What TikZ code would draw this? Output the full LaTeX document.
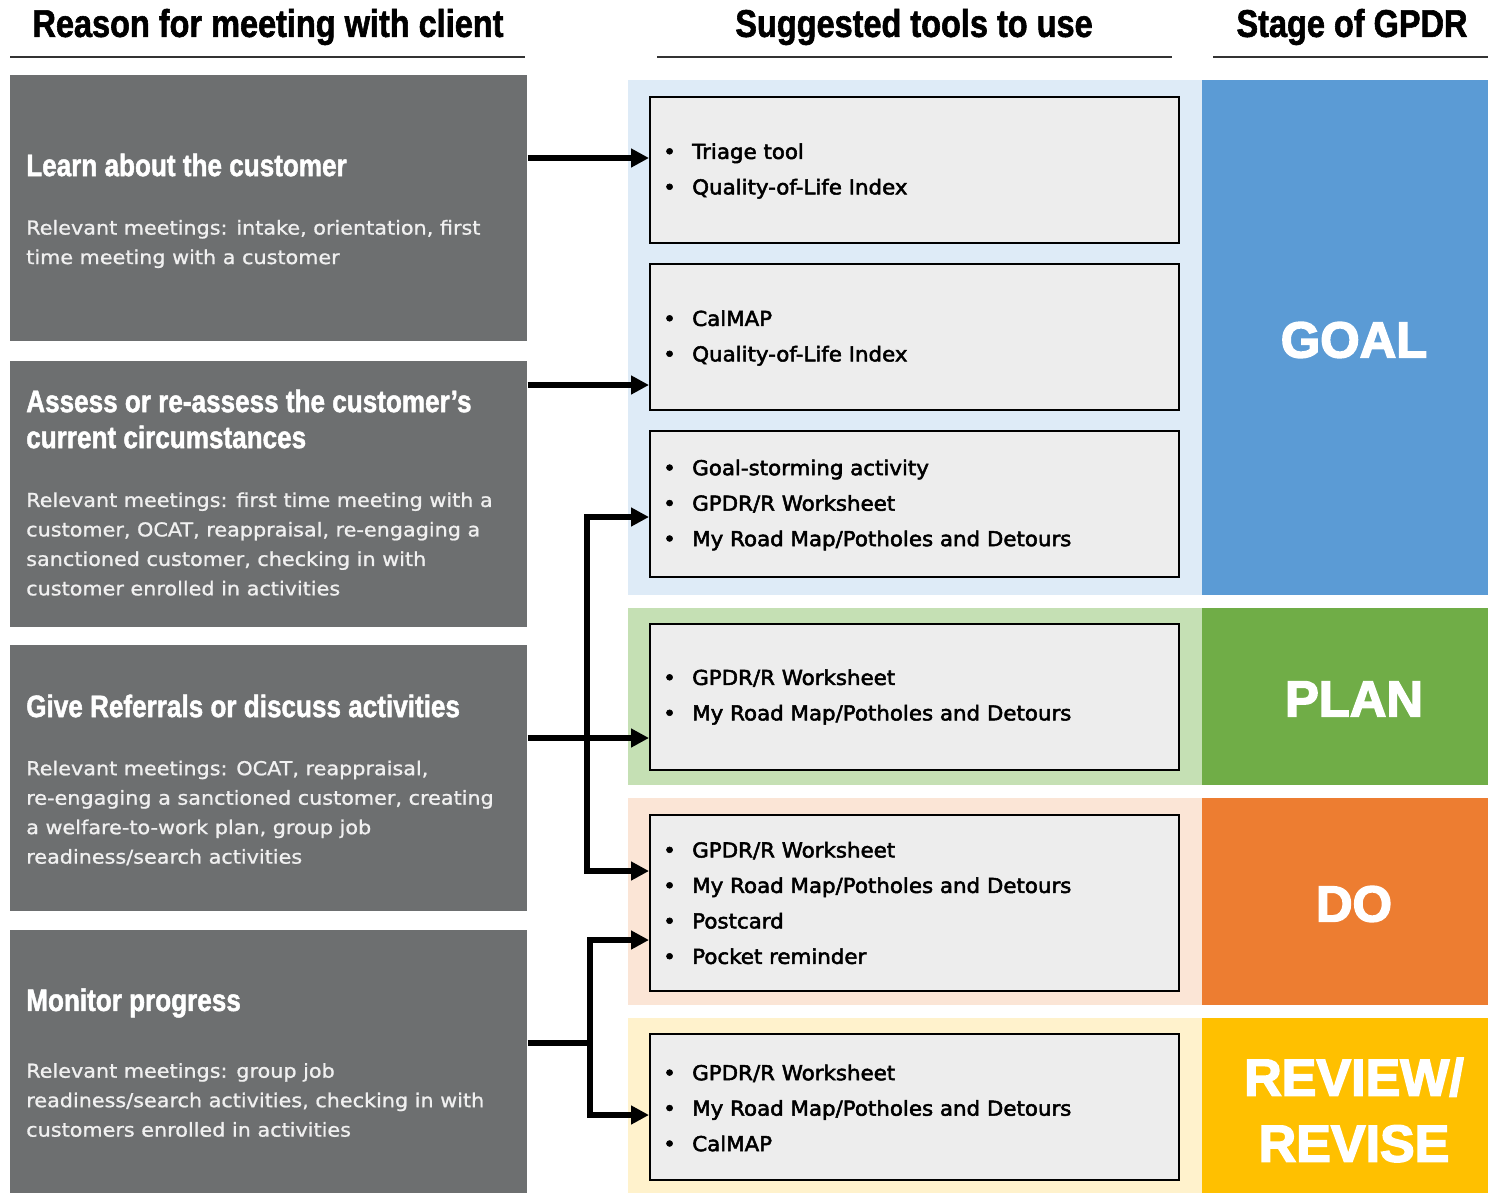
\documentclass[tikz,border=0pt]{standalone}
\usepackage{fontspec}
\setmainfont{DejaVu Sans}
\newfontfamily\headfont[FakeStretch=0.84,FakeBold=1.5,UprightFont={* Bold}]{Liberation Sans}
\newfontfamily\stagefont[FakeBold=3,UprightFont={* Bold}]{Liberation Sans}
\newfontfamily\bodyfont[FakeStretch=1.08,FakeBold=1]{DejaVu Sans}
\newfontfamily\toolfont[FakeStretch=1.04,FakeBold=2.5]{DejaVu Sans}
\usetikzlibrary{arrows.meta}

\definecolor{reasongray}{HTML}{6D6F70}
\definecolor{toolgray}{HTML}{EDEDED}
\definecolor{goalbg}{HTML}{DEEBF7}
\definecolor{goalc}{HTML}{5B9BD5}
\definecolor{planbg}{HTML}{C5E0B4}
\definecolor{planc}{HTML}{70AD47}
\definecolor{dobg}{HTML}{FBE5D6}
\definecolor{doc}{HTML}{ED7D31}
\definecolor{revbg}{HTML}{FFF2CC}
\definecolor{revc}{HTML}{FFC000}

\newcommand\bul{\makebox[21.75pt][l]{\textbullet}}

\tikzset{
  colhead/.style={font=\headfont\fontsize{29}{32}\selectfont, inner sep=0},
  reason/.style={fill=reasongray, anchor=north west, inner sep=0,
    minimum width=387.75pt, minimum height=199.5pt},
  rtitle/.style={anchor=west, inner sep=0, align=left, text=white,
    font=\headfont\fontsize{23.3}{27}\selectfont},
  rbody/.style={anchor=west, inner sep=0, align=left, text=black!6,
    font=\bodyfont\fontsize{14.4}{22.1}\selectfont},
  tool/.style={fill=toolgray, draw=black, line width=1.3pt, anchor=north west,
    inner sep=0, minimum width=396.75pt, minimum height=109.5pt},
  items/.style={anchor=west, inner sep=0, align=left,
    font=\toolfont\fontsize{15.4}{26.6}\selectfont},
  stage/.style={text=white, inner sep=0, align=center,
    font=\stagefont\fontsize{38}{50}\selectfont},
  arr/.style={line width=4.5pt, -{Triangle[length=13.5pt,width=13.5pt]}},
  feed/.style={line width=4.5pt}
}

\begin{document}
\begin{tikzpicture}[x=0.75pt, y=-0.75pt, line join=miter]
\useasboundingbox (0,0) rectangle (1488,1193);

% column headings
\node[colhead] (hreason) at (268,27) {Reason for meeting with client};
\node[colhead] (htools) at (914,27) {Suggested tools to use};
\node[colhead] (hstage) at (1352,27) {Stage of GPDR};
\draw[black!80, line width=1.5pt] (10,57) -- (525,57);
\draw[black!80, line width=1.5pt] (657,57) -- (1172,57);
\draw[black!80, line width=1.5pt] (1213,57) -- (1488,57);

% tinted bands behind the tools, stage blocks on the right
\fill[goalbg] (628,80) rectangle (1202,595);
\fill[planbg] (628,608) rectangle (1202,785);
\fill[dobg] (628,798) rectangle (1202,1005);
\fill[revbg] (628,1018) rectangle (1202,1193);
\fill[goalc] (1202,80) rectangle (1488,595);
\fill[planc] (1202,608) rectangle (1488,785);
\fill[doc] (1202,798) rectangle (1488,1005);
\fill[revc] (1202,1018) rectangle (1488,1193);
\node[stage] (goal) at (1354,340) {GOAL};
\node[stage] (plan) at (1354,699) {PLAN};
\node[stage] (do) at (1354,904) {DO};
\node[stage, font=\stagefont\fontsize{39}{49.5}\selectfont] (review) at (1354,1110) {REVIEW/\\REVISE};

% reasons
\node[reason] (reason1) at (10,75) {};
\node[reason] (reason2) at (10,361) {};
\node[reason] (reason3) at (10,645) {};
\node[reason, minimum height=197.25pt] (reason4) at (10,930) {};

\node[rtitle] at (26,165) {Learn about the customer};
\node[rbody] at (26,244) {Relevant meetings: intake, orientation, first\\
  time meeting with a customer};

\node[rtitle] at (26,419) {Assess or re-assess the customer’s\\current circumstances};
\node[rbody] at (26,544) {Relevant meetings: first time meeting with a\\
  customer, OCAT, reappraisal, re-engaging a\\
  sanctioned customer, checking in with\\
  customer enrolled in activities};

\node[rtitle] at (26,706) {Give Referrals or discuss activities};
\node[rbody] at (26,813) {Relevant meetings: OCAT, reappraisal,\\
  re-engaging a sanctioned customer, creating\\
  a welfare-to-work plan, group job\\
  readiness/search activities};

\node[rtitle] at (26,1003) {Monitor progress};
\node[rbody] at (26,1100) {Relevant meetings: group job\\
  readiness/search activities, checking in with\\
  customers enrolled in activities};

% tools
\node[tool] (tool1) at (649,96) {};
\node[tool] (tool2) at (649,263) {};
\node[tool] (tool3) at (649,430) {};
\node[tool] (tool4) at (649,623) {};
\node[tool, minimum height=132pt] (tool5) at (649,814) {};
\node[tool] (tool6) at (649,1033) {};

\node[items] at (663,171) {\bul Triage tool\\\bul Quality-of-Life Index};
\node[items] at (663,338) {\bul CalMAP\\\bul Quality-of-Life Index};
\node[items] at (663,505) {\bul Goal-storming activity\\\bul GPDR/R Worksheet\\
  \bul My Road Map/Potholes and Detours};
\node[items] at (663,697) {\bul GPDR/R Worksheet\\\bul My Road Map/Potholes and Detours};
\node[items] at (663,903) {\bul GPDR/R Worksheet\\\bul My Road Map/Potholes and Detours\\
  \bul Postcard\\\bul Pocket reminder};
\node[items] at (663,1108) {\bul GPDR/R Worksheet\\\bul My Road Map/Potholes and Detours\\
  \bul CalMAP};

% connectors
\coordinate (fork3) at (587,738);
\coordinate (fork4) at (590,1043);
\draw[arr] (reason1.east |- 0,158) -- (tool1.west |- 0,158);
\draw[arr] (reason2.east |- 0,385) -- (tool2.west |- 0,385);
\draw[arr] (reason3.east |- fork3) -- (tool4.west |- fork3);
\draw[arr] (fork3) |- (tool3.west |- 0,517);
\draw[arr] (fork3) |- (tool5.west |- 0,871);
\draw[feed] (reason4.east |- fork4) -- (fork4);
\draw[arr] (fork4) |- (tool5.west |- 0,940);
\draw[arr] (fork4) |- (tool6.west |- 0,1115);

\end{tikzpicture}
\end{document}
